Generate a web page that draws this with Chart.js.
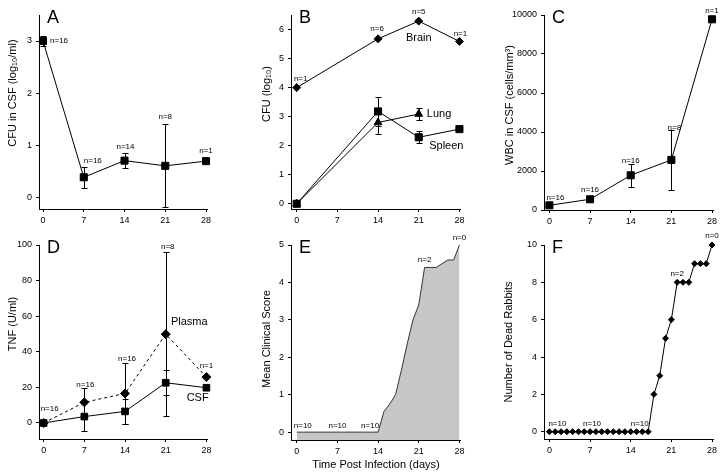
<!DOCTYPE html>
<html>
<head>
<meta charset="utf-8">
<script src="https://cdn.jsdelivr.net/npm/chart.js@4"></script>
<style>
  body { margin: 0; background: #fff; }
  #wrap { position: relative; width: 724px; height: 475px; overflow: hidden; }
  canvas { position: absolute; }
</style>
</head>
<body>
<div id="wrap">
  <canvas id="cA" width="240" height="232" style="left:0;top:0"></canvas>
  <canvas id="cB" width="240" height="232" style="left:240px;top:0"></canvas>
  <canvas id="cC" width="244" height="232" style="left:480px;top:0"></canvas>
  <canvas id="cD" width="240" height="243" style="left:0;top:232px"></canvas>
  <canvas id="cE" width="240" height="243" style="left:240px;top:232px"></canvas>
  <canvas id="cF" width="244" height="243" style="left:480px;top:232px"></canvas>
</div>
<script>
// ---- data ----
var xTicks = [0, 7, 14, 21, 28];

// A  CFU in CSF
var aDays = [0, 7, 14, 21, 28];
var aCfu = [3.0, 0.38, 0.70, 0.60, 0.69];
var aErr = [0.1, 0.2, 0.15, 0.8, 0];
var aN = ['n=16', 'n=16', 'n=14', 'n=8', 'n=1'];
var aTicks = [0, 1, 2, 3];

// B  CFU in organs
var bBrainDays = [0, 14, 21, 28];
var bBrain = [4.0, 5.68, 6.29, 5.59];
var bLungDays = [0, 14, 21];
var bLung = [0, 2.8, 3.09];
var bLungErr = [0, 0.4, 0.2];
var bSpleenDays = [0, 14, 21, 28];
var bSpleen = [0, 3.18, 2.29, 2.57];
var bSpleenErr = [0, 0.5, 0.2, 0];
var bN = ['n=1', 'n=6', 'n=5', 'n=1'];
var bTicks = [0, 1, 2, 3, 4, 5, 6];

// C  WBC in CSF
var cDays = [0, 7, 14, 21, 28];
var cWbc = [240, 550, 1780, 2570, 9780];
var cErr = [0, 0, 590, 1530, 0];
var cN = ['n=16', 'n=16', 'n=16', 'n=8', 'n=1'];
var cTicks = [0, 2000, 4000, 6000, 8000, 10000];

// D  TNF
var dDays = [0, 7, 14, 21, 28];
var dPlasma = [0, 11.6, 16.6, 49.9, 25.8];
var dPlasmaErr = [0, 8, 17, 46, 0];
var dCsf = [0, 3.6, 6.5, 22.6, 19.8];
var dCsfErr = [0, 8, 7, 7, 0];
var dN = ['n=16', 'n=16', 'n=16', 'n=8', 'n=1'];
var dTicks = [0, 20, 40, 60, 80, 100];

// E  mean clinical score (daily)
var eDays = [0, 1, 2, 3, 4, 5, 6, 7, 8, 9, 10, 11, 12, 13, 14, 15, 16, 17, 18, 19, 20, 21, 22, 23, 24, 25, 26, 27, 28];
var eScore = [0, 0, 0, 0, 0, 0, 0, 0, 0, 0, 0, 0, 0, 0, 0, 0.55, 0.75, 1.0, 1.65, 2.35, 3.0, 3.4, 4.4, 4.4, 4.4, 4.5, 4.6, 4.6, 5.0];
var eNDays = [0, 7, 14, 22, 28];
var eN = ['n=10', 'n=10', 'n=10', 'n=2', 'n=0'];
var eTicks = [0, 1, 2, 3, 4, 5];

// F  number of dead rabbits (daily)
var fDays = [0, 1, 2, 3, 4, 5, 6, 7, 8, 9, 10, 11, 12, 13, 14, 15, 16, 17, 18, 19, 20, 21, 22, 23, 24, 25, 26, 27, 28];
var fDead = [0, 0, 0, 0, 0, 0, 0, 0, 0, 0, 0, 0, 0, 0, 0, 0, 0, 0, 2, 3, 5, 6, 8, 8, 8, 9, 9, 9, 10];
var fNDays = [0, 7, 14, 22, 28];
var fN = ['n=10', 'n=10', 'n=10', 'n=2', 'n=0'];
var fTicks = [0, 2, 4, 6, 8, 10];

// ---- drawing ----
var FONT = '"Liberation Sans", Arial, Helvetica, sans-serif';

function pts(xs, ys) {
    return xs.map(function (x, i) { return { x: x, y: ys[i] }; });
}

function series(xs, ys, style, r, extra) {
    var ds = {
        data: pts(xs, ys),
        borderColor: '#000',
        borderWidth: 1,
        pointStyle: style,
        pointRadius: r,
        pointBackgroundColor: '#000',
        pointBorderColor: '#000',
        pointBorderWidth: 1,
        tension: 0,
        clip: false
    };
    return Object.assign(ds, extra || {});
}

// n= labels hung off data points; offs = [dx, dy, align] in pixels
function nNotes(texts, xs, ys, offs) {
    return texts.map(function (t, i) {
        var o = offs[i];
        return { t: t, x: xs[i], y: ys[i], dx: o[0], dy: o[1], al: o[2] || 'center', size: 8 };
    });
}

function pick(days, vals, which) {
    return which.map(function (d) { return vals[days.indexOf(d)]; });
}

function axis(a, kind) {
    return {
        type: 'linear',
        min: a.min,
        max: a.max,
        bounds: 'data',
        grid: { drawOnChartArea: false, drawTicks: true, tickLength: 3, color: '#000', lineWidth: 1 },
        border: { display: true, color: '#000', width: 1 },
        ticks: {
            color: '#000',
            font: { family: FONT, size: 9 },
            padding: kind === 'x' ? 3 : 4,
            autoSkip: false,
            maxRotation: 0,
            callback: function (v) { return String(v); }
        },
        afterBuildTicks: function (s) {
            s.ticks = a.ticks.map(function (v) { return { value: v }; });
        },
        afterFit: function (s) {
            if (kind === 'x') s.height = a.size; else s.width = a.size;
        }
    };
}

function makeDecor(o) {
    return {
        id: 'decor',
        beforeDatasetsDraw: function (chart) {
            var ctx = chart.ctx, xs = chart.scales.x, ys = chart.scales.y;
            ctx.save();
            ctx.strokeStyle = '#000';
            ctx.lineWidth = 1;
            chart.data.datasets.forEach(function (ds) {
                if (!ds.err) return;
                ds.data.forEach(function (p, i) {
                    var e = ds.err[i];
                    if (!e) return;
                    var x = Math.round(xs.getPixelForValue(p.x)) + 0.5;
                    var y1 = Math.round(ys.getPixelForValue(p.y + e)) + 0.5;
                    var y2 = Math.round(ys.getPixelForValue(p.y - e)) + 0.5;
                    ctx.beginPath();
                    ctx.moveTo(x, y1); ctx.lineTo(x, y2);
                    ctx.moveTo(x - 3, y1); ctx.lineTo(x + 3, y1);
                    ctx.moveTo(x - 3, y2); ctx.lineTo(x + 3, y2);
                    ctx.stroke();
                });
            });
            ctx.restore();
        },
        afterDatasetsDraw: function (chart) {
            var ctx = chart.ctx, xs = chart.scales.x, ys = chart.scales.y, ca = chart.chartArea;
            ctx.save();
            ctx.fillStyle = '#000';
            ctx.textBaseline = 'middle';
            (o.notes || []).forEach(function (n) {
                ctx.font = n.size + 'px ' + FONT;
                ctx.textAlign = n.al;
                ctx.fillText(n.t, xs.getPixelForValue(n.x) + n.dx, ys.getPixelForValue(n.y) + n.dy);
            });
            // panel letter
            ctx.font = '18px ' + FONT;
            ctx.textAlign = 'left';
            ctx.textBaseline = 'alphabetic';
            ctx.fillText(o.letter, ca.left + 8, ca.top + 8);
            // axis titles
            ctx.font = '11px ' + FONT;
            ctx.textAlign = 'center';
            ctx.textBaseline = 'middle';
            ctx.save();
            ctx.translate(o.yTitle[1], o.yTitle[2]);
            ctx.rotate(-Math.PI / 2);
            ctx.fillText(o.yTitle[0], 0, 0);
            ctx.restore();
            if (o.xTitle) ctx.fillText(o.xTitle[0], o.xTitle[1], o.xTitle[2]);
            ctx.restore();
        }
    };
}

function panel(id, o) {
    return new Chart(document.getElementById(id), {
        type: 'line',
        data: { datasets: o.datasets },
        options: {
            responsive: false,
            animation: false,
            events: [],
            layout: { padding: { left: 0, right: o.padR, top: o.padT, bottom: 0 } },
            plugins: { legend: { display: false }, tooltip: { enabled: false } },
            scales: { x: axis(o.x, 'x'), y: axis(o.y, 'y') }
        },
        plugins: [makeDecor(o)]
    });
}

// A
panel('cA', {
    letter: 'A', padT: 15, padR: 33,
    x: { min: -0.69, max: 28.17, ticks: xTicks, size: 23 },
    y: { min: -0.23, max: 3.5, ticks: aTicks, size: 39 },
    yTitle: ['CFU in CSF (log\u2081\u2080/ml)', 13, 93],
    datasets: [series(aDays, aCfu, 'rect', 5, { err: aErr })],
    notes: nNotes(aN, aDays, aCfu, [[7, 0, 'left'], [9, -16], [1, -14], [0, -49], [0, -10]])
});

// B
panel('cB', {
    letter: 'B', padT: 15, padR: 20,
    x: { min: -0.98, max: 28.1, ticks: xTicks, size: 23 },
    y: { min: -0.18, max: 6.5, ticks: bTicks, size: 51 },
    yTitle: ['CFU (log\u2081\u2080)', 27, 94],
    datasets: [
        series(bBrainDays, bBrain, 'rectRot', 4),
        series(bLungDays, bLung, 'triangle', 4.5, { err: bLungErr }),
        series(bSpleenDays, bSpleen, 'rect', 5, { err: bSpleenErr })
    ],
    notes: nNotes(bN, bBrainDays, bBrain, [[4, -9], [-1, -10], [0, -9], [1, -8]]).concat([
        { t: 'Brain', x: 21, y: 5.7, dx: 0, dy: 0, al: 'center', size: 11 },
        { t: 'Lung', x: 22.4, y: 3.1, dx: 0, dy: 0, al: 'left', size: 11 },
        { t: 'Spleen', x: 22.8, y: 2.0, dx: 0, dy: 0, al: 'left', size: 11 }
    ])
});

// C
panel('cC', {
    letter: 'C', padT: 15, padR: 11,
    x: { min: -0.93, max: 28.17, ticks: xTicks, size: 22 },
    y: { min: 0, max: 10000, ticks: cTicks, size: 64 },
    yTitle: ['WBC in CSF (cells/mm\u00b3)', 30, 105],
    datasets: [series(cDays, cWbc, 'rect', 5, { err: cErr })],
    notes: nNotes(cN, cDays, cWbc, [[6, -8], [0, -9], [0, -14], [3, -32], [0, -8]])
});

// D
panel('cD', {
    letter: 'D', padT: 13, padR: 33,
    x: { min: -0.8, max: 28.1, ticks: xTicks, size: 36 },
    y: { min: -9, max: 100, ticks: dTicks, size: 39 },
    yTitle: ['TNF (U/ml)', 13, 92],
    datasets: [
        series(dDays, dPlasma, 'rectRot', 4.5, { err: dPlasmaErr, borderDash: [3, 3] }),
        series(dDays, dCsf, 'rect', 4.7, { err: dCsfErr })
    ],
    notes: nNotes(dN, dDays, dPlasma, [[6, -14], [1, -18], [2, -35], [2, -87], [0, -11]]).concat([
        { t: 'Plasma', x: 21.9, y: 56.7, dx: 0, dy: 0, al: 'left', size: 11 },
        { t: 'CSF', x: 24.6, y: 14, dx: 0, dy: 0, al: 'left', size: 11 }
    ])
});

// E
panel('cE', {
    letter: 'E', padT: 13, padR: 20,
    x: { min: -1.0, max: 28.1, ticks: xTicks, size: 35 },
    y: { min: -0.21, max: 5, ticks: eTicks, size: 51 },
    yTitle: ['Mean Clinical Score', 27, 107],
    xTitle: ['Time Post Infection (days)', 136, 233],
    datasets: [series(eDays, eScore, 'circle', 0, {
        fill: 'start', backgroundColor: '#c6c6c6', borderColor: '#333'
    })],
    notes: nNotes(eN, eNDays, pick(eDays, eScore, eNDays), [[6, -6], [0, -6], [-8, -6], [0, -8], [0, -7]])
});

// F
panel('cF', {
    letter: 'F', padT: 13, padR: 11,
    x: { min: -0.93, max: 28.17, ticks: xTicks, size: 36 },
    y: { min: -0.39, max: 10, ticks: fTicks, size: 64 },
    yTitle: ['Number of Dead Rabbits', 29, 110],
    datasets: [series(fDays, fDead, 'rectRot', 3)],
    notes: nNotes(fN, fNDays, pick(fDays, fDead, fNDays), [[8, -8], [2, -8], [9, -8], [0, -9], [0, -9]])
});
</script>
</body>
</html>
